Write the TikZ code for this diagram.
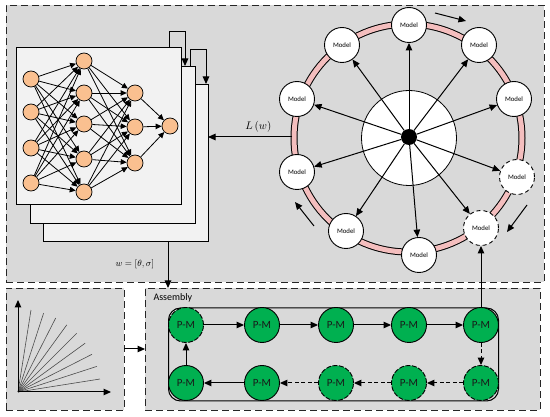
\documentclass[tikz,border=0pt]{standalone}
\usepackage{fontspec}
\newfontfamily\calfont{Carlito}
\usetikzlibrary{arrows.meta,calc}
\definecolor{panelgray}{HTML}{D9D9D9}
\definecolor{boxgray}{HTML}{F2F2F2}
\definecolor{peach}{HTML}{FAC090}
\definecolor{pmgreen}{HTML}{00B050}
\definecolor{ringpink}{HTML}{F4BEBE}
\begin{document}
\begin{tikzpicture}[x=1pt,y=-1pt,
  >={Triangle[length=7.5pt,width=6.5pt]},
  panelbox/.style={draw=black!85, fill=panelgray, line width=0.9pt, dash pattern=on 7pt off 4pt, inner sep=0pt, outer sep=0pt, anchor=north west},
  nnbox/.style={draw=black, fill=boxgray, line width=0.9pt, inner sep=0pt, outer sep=0pt, anchor=north west, minimum width=165pt, minimum height=157pt},
  neuron/.style={circle, draw=black, fill=peach, line width=0.7pt, minimum size=16pt, inner sep=0pt},
  nnedge/.style={-{Triangle[length=6pt,width=5.5pt]}, line width=0.8pt},
  model/.style={circle, draw=black, fill=white, line width=0.9pt, minimum size=35pt, inner sep=0pt, font=\calfont\fontsize{6.8}{7}\selectfont},
  pm/.style={circle, draw=black, fill=pmgreen, line width=0.9pt, minimum size=35pt, inner sep=0pt, font=\calfont\fontsize{11}{12}\selectfont, text=black!90},
  pmdash/.style={dash pattern=on 5pt off 1.5pt},
  dashedge/.style={dash pattern=on 4pt off 2.5pt},
  conn/.style={->, line width=1pt}
]
\useasboundingbox (0,0) rectangle (550,417);
% panels
\node[panelbox, minimum width=538pt, minimum height=277pt] (toppanel) at (6,5) {};
\node[panelbox, minimum width=118pt, minimum height=122pt] (plotpanel) at (6,288) {};
\node[panelbox, minimum width=395pt, minimum height=122pt] (asm) at (145,288) {};

% stacked network boxes
\node[nnbox] (b3) at (43,84) {};
\node[nnbox] (b2) at (30,66) {};
\node[nnbox] (b1) at (16,47) {};
\draw[conn] ([xshift=-12pt]b1.north east) -- ++(0,-15) -| ([xshift=-10pt]b2.north east);
\draw[conn] ([xshift=-5pt]b2.north east) -- ++(0,-16) -| ([xshift=-2pt]b3.north east);

% neurons
\foreach \y [count=\i] in {79,112,148,183} \node[neuron] (a\i) at (31,\y) {};
\foreach \y [count=\i] in {61,93,124,159,192} \node[neuron] (h\i) at (84,\y) {};
\foreach \y [count=\i] in {93,127,163} \node[neuron] (g\i) at (135,\y) {};
\node[neuron] (o1) at (170,126) {};
\foreach \i in {1,...,4} \foreach \j in {1,...,5} \draw[nnedge] (a\i) -- (h\j);
\foreach \i in {1,...,5} \foreach \j in {1,...,3} \draw[nnedge] (h\i) -- (g\j);
\foreach \i in {1,...,3} \draw[nnedge] (g\i) -- (o1);

% ring
\coordinate (rc) at (408,138);
\draw[line width=7pt, black] (rc) circle[radius=114pt];
\draw[line width=5pt, ringpink] (rc) circle[radius=114pt];
\node[circle, draw=black, fill=white, line width=0.8pt, minimum size=95pt, inner sep=0pt] (inner) at (409,138) {};
\node[circle, fill=black, minimum size=16pt, inner sep=0pt] (hub) at (409,137) {};

\node[model] (m1) at (409,25) {Model};
\node[model] (m2) at (342,45) {Model};
\node[model] (m3) at (479,45) {Model};
\node[model] (m4) at (297,99) {Model};
\node[model] (m5) at (514,99) {Model};
\node[model] (m6) at (297,172) {Model};
\node[model, dash pattern=on 4pt off 3pt] (m7) at (517,177) {Model};
\node[model] (m8) at (346,231) {Model};
\node[model, dash pattern=on 4pt off 3pt] (m9) at (481,228) {Model};
\node[model] (m10) at (419,255) {Model};
\foreach \i in {1,...,10} \draw[conn] (hub) -- (m\i);

% rotation arrows
\coordinate (ra1) at (435,13); \coordinate (rb1) at (466,21);
\coordinate (ra2) at (527,205); \coordinate (rb2) at (507,232);
\coordinate (ra3) at (314,226); \coordinate (rb3) at (295,202);
\draw[conn] (ra1) -- (rb1);
\draw[conn] (ra2) -- (rb2);
\draw[conn] (ra3) -- (rb3);

% L(w)
\coordinate (lw) at (292,137);
\draw[conn] (lw) -- (lw -| b3.east) node[pos=0.4, above=1pt, font=\fontsize{11}{12}\selectfont] (lwlbl) {$L\left(w\right)$};

% w arrow
\coordinate (wt) at ([xshift=-40pt]b3.south east);
\draw[conn] (wt) -- (wt |- asm.north) node[midway, left=10pt, font=\fontsize{9}{10}\selectfont] (wlbl) {$w=[\theta,\sigma]$};

% plot
\coordinate (org) at (18,392);
\coordinate (yend) at (18,300);
\coordinate (xend) at (111,392);
\foreach \a in {9,18,...,81} \draw[line width=0.6pt, black!70] (org) -- ++(-\a:83);
\draw[conn] (org) -- (yend);
\draw[conn] (org) -- (xend);
\draw[conn] (plotpanel.east) -- (asm.west);

% assembly
\node[anchor=west, font=\calfont\fontsize{10}{12}\selectfont] (asmlbl) at (150,298) {Assembly};
\draw[line width=1pt, rounded corners=12pt] (168.5,308) rectangle (498.5,401);
\node[pm, pmdash] (p1) at (186,325) {P-M};
\node[pm] (p2) at (262,325) {P-M};
\node[pm] (p3) at (336,325) {P-M};
\node[pm] (p4) at (409,325) {P-M};
\node[pm] (p5) at (481,325) {P-M};
\node[pm] (q1) at (186,383) {P-M};
\node[pm] (q2) at (262,383) {P-M};
\node[pm, pmdash] (q3) at (336,383) {P-M};
\node[pm, pmdash] (q4) at (409,383) {P-M};
\node[pm, pmdash] (q5) at (481,383) {P-M};
\draw[conn] (p1) -- (p2);
\draw[conn] (p2) -- (p3);
\draw[conn] (p3) -- (p4);
\draw[conn] (p4) -- (p5);
\draw[conn, dashedge] (p5) -- (q5);
\draw[conn, dashedge] (q5) -- (q4);
\draw[conn, dashedge] (q4) -- (q3);
\draw[conn, dashedge] (q3) -- (q2);
\draw[conn] (q2) -- (q1);
\draw[conn] (q1) -- (p1);
\draw[conn] (p5) -- (m9);
\end{tikzpicture}
\end{document}
